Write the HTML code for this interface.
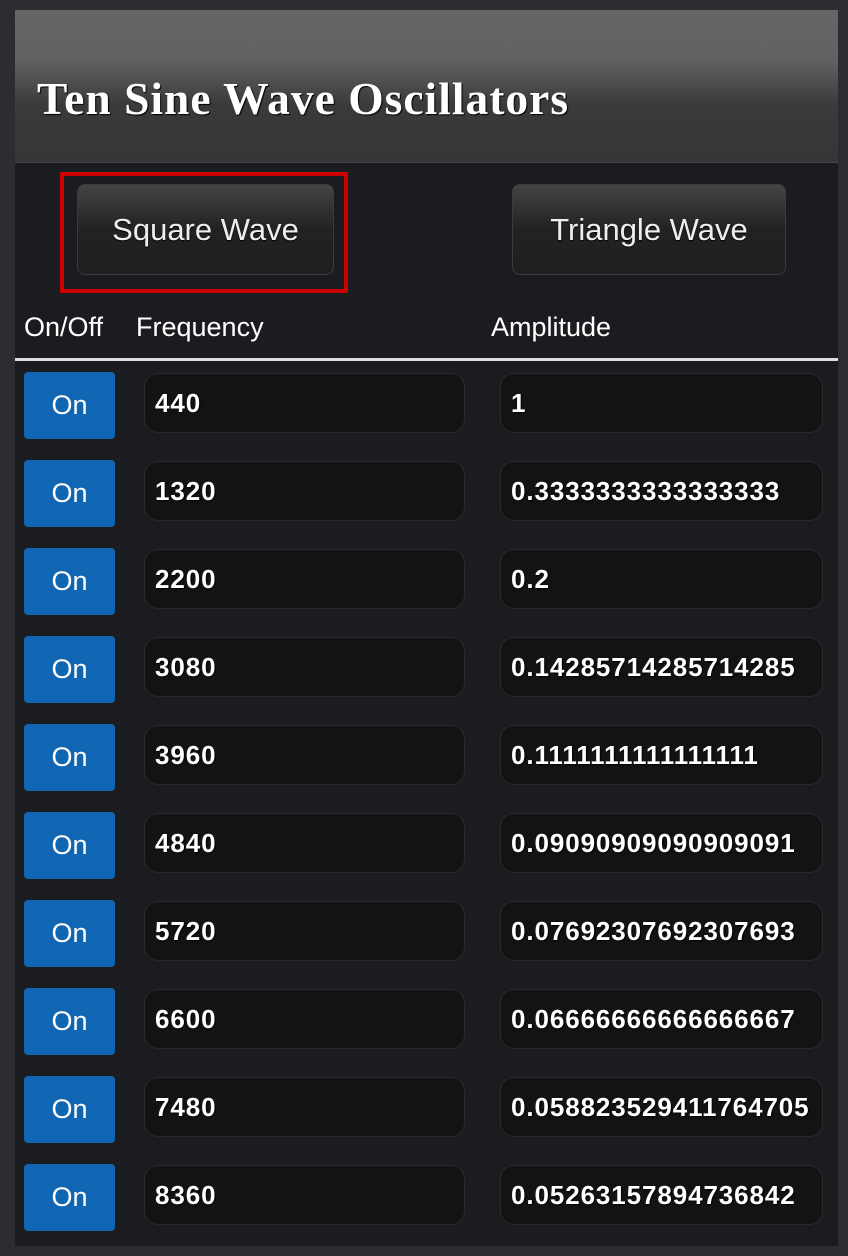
<!DOCTYPE html>
<html><head><meta charset="utf-8"><style>
body{margin:0;width:848px;height:1256px;background:#2b2d30;position:relative;overflow:hidden;font-family:"Liberation Sans",sans-serif}
#panel{position:absolute;left:15px;top:10px;width:823px;height:1236px;background:#1b1c1f}
#hdr{position:absolute;left:0;top:0;width:823px;height:152px;background:linear-gradient(#666 0px,#626262 50px,#3a3a3a 95px,#363636 152px);border-bottom:1px solid #444}
#title{position:absolute;left:22px;top:62px;font-family:"Liberation Serif",serif;font-weight:bold;font-size:46px;color:#fff;transform:scaleX(0.99);transform-origin:left top;white-space:nowrap;letter-spacing:1px;text-shadow:1px 1px 1px #000}
.btn{position:absolute;height:91px;border:1px solid #3c3c3c;border-radius:8px;background:linear-gradient(#444,#222 50%,#1f1f1f);color:#eee;font-size:31px;display:flex;align-items:center;justify-content:center;box-sizing:border-box;text-shadow:0 1px 1px #000}
#hl{position:absolute;left:45px;top:162px;width:288px;height:121px;border:4px solid #c00;box-sizing:border-box}
.th{position:absolute;top:302px;color:#fff;font-size:27px}
#rule{position:absolute;left:0;top:348px;width:823px;height:3px;background:#ddd}
.on{position:absolute;left:9px;width:91px;height:67px;background:#1166b3;border-radius:4px;color:#fff;font-size:27px;display:flex;align-items:center;justify-content:center}
.inp{position:absolute;height:60px;border:1px solid #2a2a2a;border-radius:14px;background:#131313;color:#fff;font-weight:bold;font-size:26px;box-sizing:border-box;padding-left:10px;display:flex;align-items:center;letter-spacing:0.9px;text-shadow:1px 1px 1px #000;white-space:nowrap;overflow:hidden}
</style></head><body>
<div id="panel">
<div id="hdr"><div id="title">Ten Sine Wave Oscillators</div></div>
<div id="hl"></div>
<div class="btn" style="left:62px;top:174px;width:257px">Square Wave</div>
<div class="btn" style="left:497px;top:174px;width:274px">Triangle Wave</div>
<div class="th" style="left:9px">On/Off</div>
<div class="th" style="left:121px">Frequency</div>
<div class="th" style="left:476px">Amplitude</div>
<div id="rule"></div>
<div id="rows"></div>
</div>
<script>
const freqs=["440","1320","2200","3080","3960","4840","5720","6600","7480","8360"];
const amps=["1","0.3333333333333333","0.2","0.14285714285714285","0.1111111111111111","0.09090909090909091","0.07692307692307693","0.06666666666666667","0.058823529411764705","0.05263157894736842"];
const rows=document.getElementById('rows');
freqs.forEach((f,i)=>{
  const y=362+i*88;
  const b=document.createElement('div');b.className='on';b.style.top=y+'px';b.textContent='On';
  
  
  rows.appendChild(b);
  const fi=document.createElement('div');fi.className='inp';fi.style.left='129px';fi.style.width='321px';fi.style.top=(y+1)+'px';fi.textContent=f;
  
  
  rows.appendChild(fi);
  const a=document.createElement('div');a.className='inp';a.style.left='485px';a.style.width='323px';a.style.top=(y+1)+'px';a.textContent=amps[i];
  
  
  rows.appendChild(a);
});
</script>
</body></html>
